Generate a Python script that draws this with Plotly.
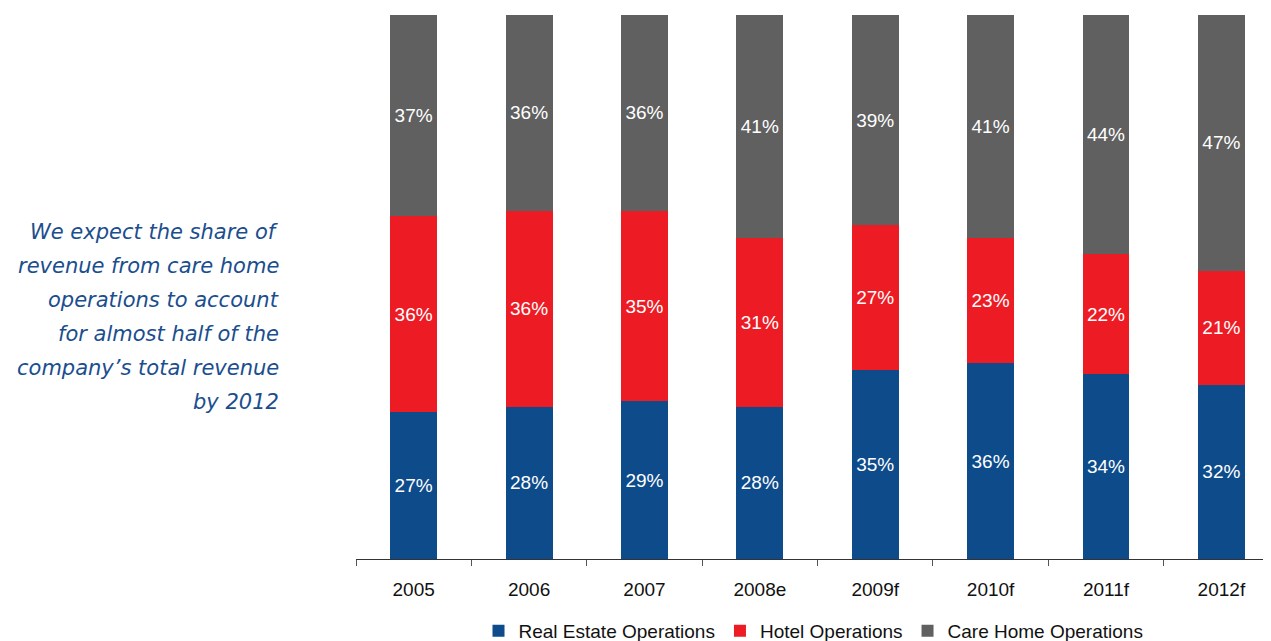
import plotly.graph_objects as go

categories = ["2005", "2006", "2007", "2008e", "2009f", "2010f", "2011f", "2012f"]
real_estate = [27, 28, 29, 28, 35, 36, 34, 32]
hotel = [36, 36, 35, 31, 27, 23, 22, 21]
care_home = [37, 36, 36, 41, 39, 41, 44, 47]
series_names = ["Real Estate Operations", "Hotel Operations", "Care Home Operations"]
series_colors = ["#0D4B8B", "#ED1C24", "#606060"]
note_lines = [
    "We expect the share of",
    "revenue from care home",
    "operations to account",
    "for almost half of the",
    "company\u2019s total revenue",
    "by 2012",
]

# page has an 8px body margin; figure sized so it ends at the window edge
OFF = 8
W, H = 1271 - OFF, 641 - OFF
ml, mr, mt, mb = 356 - OFF, 0, 15 - OFF, 82
pw, ph = W - ml - mr, H - mt - mb

fig = go.Figure()
for name, vals, col in zip(series_names, [real_estate, hotel, care_home], series_colors):
    fig.add_trace(go.Bar(
        x=categories, y=vals, name=name, marker=dict(color=col, line=dict(width=0)),
        text=vals, texttemplate="%{text}%", textposition="inside",
        insidetextanchor="middle", textangle=0,
        textfont=dict(color="white", size=19, family="Liberation Sans, Arial"),
        hoverinfo="skip",
    ))

annotations = []
for i, line in enumerate(note_lines):
    yc = 232 + i * 34 - OFF  # figure coords
    annotations.append(dict(
        text=line, xref="paper", yref="paper",
        x=(281 - OFF - ml) / pw, y=(H - mb - yc) / ph,
        xanchor="right", yanchor="middle", showarrow=False,
        font=dict(family="DejaVu Sans", size=21, color="#1A4E8E", style="italic"),
    ))

fig.update_layout(
    width=W, height=H, autosize=False,
    margin=dict(l=ml, r=mr, t=mt, b=mb, pad=0, autoexpand=False),
    barmode="stack", barnorm="percent", bargap=0.593,
    plot_bgcolor="white", paper_bgcolor="white",
    font=dict(family="Liberation Sans, Arial", size=19, color="#111111"),
    xaxis=dict(
        type="category", range=[-0.5, 7.43], tickson="boundaries",
        ticks="outside", ticklen=6, tickcolor="#555555", tickwidth=1,
        showline=True, linecolor="#333333", linewidth=1, showgrid=False,
        tickfont=dict(size=19, color="#111111"), ticklabelstandoff=13,
        automargin=False,
    ),
    yaxis=dict(range=[0, 100], visible=False, showgrid=False, automargin=False),
    showlegend=True,
    legend=dict(
        orientation="h", x=0.5, xanchor="center", y=-72 / ph, yanchor="middle",
        font=dict(size=19, color="#111111"), traceorder="normal",
        itemwidth=30, tracegroupgap=0,
    ),
    annotations=annotations,
)

fig.write_html("out.html")
